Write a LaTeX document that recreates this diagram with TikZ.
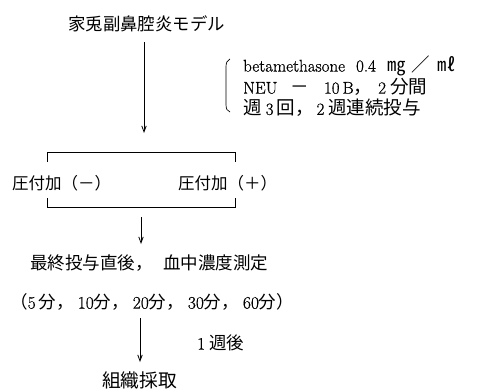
\documentclass[tikz,border=0pt]{standalone}
\usepackage{fontspec}
\setmainfont{Latin Modern Roman}[FakeBold=0.6]
\newfontfamily\jp{Noto Sans CJK JP}
\newfontfamily\jpb[Scale=1.09]{Noto Sans CJK JP}
\usetikzlibrary{arrows.meta}
\begin{document}
\begin{tikzpicture}[x=1pt,y=-1pt,
  txt/.style={inner sep=0pt, anchor=west},
  flow/.style={-{Straight Barb[length=6pt,width=4.5pt]}, line width=0.8pt},
  brk/.style={line width=0.7pt}]
\useasboundingbox (0,0) rectangle (482,391);
% title
\node[txt, font=\fontsize{17.4}{20}\selectfont\jp] (title) at (68,24) {家兎副鼻腔炎モデル};
\coordinate (a1s) at (144,42);
\coordinate (a1e) at (144,133);
\draw[flow] (a1s) -- (a1e);
% treatment list
\draw[brk] (230,59) .. controls (227,60) and (226,63) .. (226,67) -- (226,104) .. controls (226,109) and (227,111) .. (230,112);
\node[txt, font=\fontsize{17}{20}\selectfont] (l1) at (243,66)
  {betamethasone\hspace{11pt}0.4\hspace{12pt}{\jpb ㎎\hspace{5pt}／\hspace{8pt}㎖}};
\node[txt, font=\fontsize{17}{20}\selectfont] (l2) at (243,87)
  {NEU\hspace{13pt}{\jpb －}\hspace{15pt}10\hspace{3pt}B{\jpb ，}\hspace{6pt}2\hspace{4pt}{\jpb 分間}};
\node[txt, font=\fontsize{17}{20}\selectfont] (l3) at (243,108)
  {{\jpb 週}\hspace{4pt}3\hspace{3pt}{\jpb 回，}\hspace{3pt}2\hspace{4pt}{\jpb 週連続投与}};
% pressure groups
\draw[brk] (47,162) -- (47,152) -- (235,152) -- (235,162);
\draw[brk] (47,198) -- (47,207) -- (235,207) -- (235,198);
\node[txt, font=\fontsize{16.5}{20}\selectfont\jp] (minus) at (12,183) {圧付加（－）};
\node[txt, font=\fontsize{16.5}{20}\selectfont\jp] (plus) at (178,183) {圧付加（＋）};
\coordinate (a2s) at (141,217);
\coordinate (a2e) at (141,244);
\draw[flow] (a2s) -- (a2e);
% measurement
\node[txt, font=\fontsize{17.5}{20}\selectfont\jp] (meas) at (30,263) {最終投与直後，\hspace{0.6em}血中濃度測定};
\node[txt, font=\fontsize{17.5}{20}\selectfont] (times) at (10,302)
  {{\jp （}5\hspace{3pt}{\jp 分，}\hspace{4pt}10{\jp 分，}\hspace{4pt}20{\jp 分，}\hspace{4pt}30{\jp 分，}\hspace{4pt}60{\jp 分）}};
\coordinate (a3s) at (140,318);
\coordinate (a3e) at (140,362);
\draw[flow] (a3s) -- (a3e);
\node[txt, font=\fontsize{17.5}{20}\selectfont] (week) at (197,343) {1\hspace{4pt}{\jp 週後}};
\node[txt, font=\fontsize{18.75}{20}\selectfont\jp] (tissue) at (102,380) {組織採取};
\end{tikzpicture}
\end{document}
